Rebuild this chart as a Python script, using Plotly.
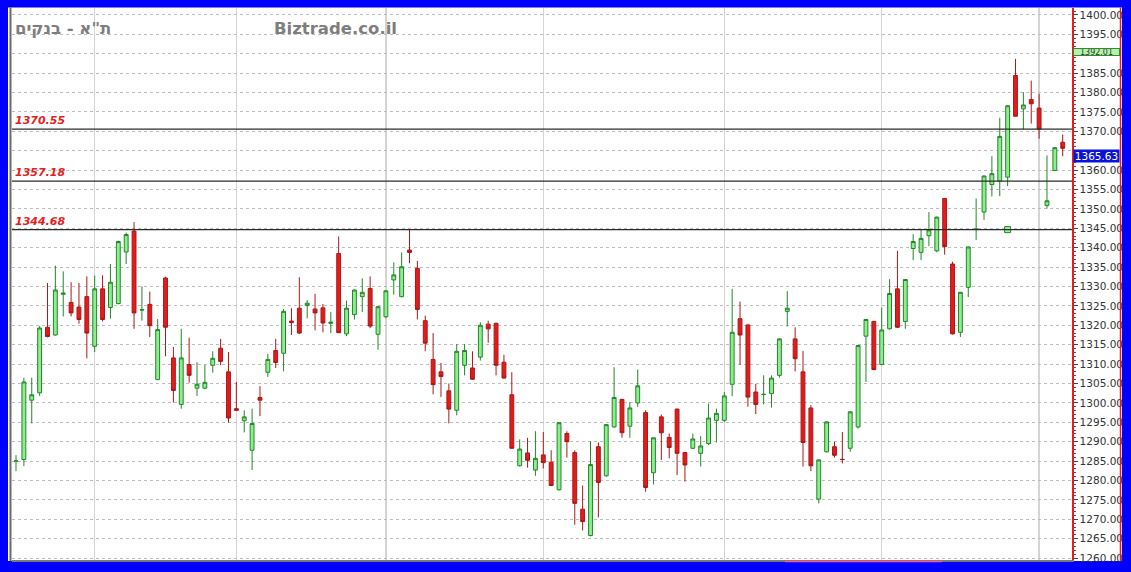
import plotly.graph_objects as go

# ---- data ----
open_ = [1285.0, 1285.4, 1300.7, 1302.6, 1319.5, 1317.5, 1328.0, 1325.9, 1324.7, 1327.4,
         1314.6, 1329.4, 1324.6, 1325.6, 1338.9, 1344.3, 1323.95, 1325.4, 1306.0, 1332.2,
         1311.6, 1299.6, 1309.9, 1303.8, 1303.8, 1309.7, 1314.1, 1308.0, 1298.5, 1295.4,
         1287.8, 1301.4, 1307.9, 1313.5, 1312.8, 1321.1, 1324.4, 1325.1, 1324.2, 1324.5,
         1320.5, 1338.5, 1317.8, 1322.8, 1327.4, 1329.5, 1317.7, 1322.2, 1331.7, 1327.4,
         1339.4, 1334.7, 1321.2, 1311.2, 1308.0, 1303.1, 1298.1, 1309.7, 1309.0, 1311.8,
         1320.3, 1320.5, 1310.5, 1302.1, 1283.8, 1287.1, 1282.7, 1286.6, 1284.7, 1277.6,
         1292.1, 1287.2, 1272.6, 1265.8, 1288.7, 1281.2, 1293.8, 1300.9, 1294.0, 1300.0,
         1297.5, 1282.0, 1296.4, 1291.1, 1298.4, 1287.2, 1288.3, 1287.0, 1289.5, 1295.5,
         1295.5, 1304.8, 1321.7, 1320.1, 1302.8, 1302.15, 1302.4, 1307.1, 1323.6, 1316.5,
         1308.0, 1298.7, 1275.2, 1287.4, 1288.7, 1285.45, 1288.3, 1293.8, 1317.2, 1321.0,
         1309.9, 1319.1, 1329.4, 1321.0, 1339.8, 1338.8, 1343.1, 1339.2, 1352.7, 1335.8,
         1318.2, 1329.8, 1344.75, 1349.2, 1356.3, 1357.2, 1358.2, 1384.4, 1375.8, 1378.2,
         1376.0, 1350.9, 1359.9, 1367.2]
high = [1286.5, 1306.5, 1306.5, 1319.8, 1330.9, 1335.4, 1333.9, 1331.1, 1330.9, 1332.6,
        1332.8, 1332.9, 1335.8, 1341.8, 1343.9, 1346.6, 1330.0, 1328.7, 1321.6, 1332.5,
        1314.4, 1319.1, 1316.8, 1310.5, 1309.8, 1313.3, 1316.5, 1313.1, 1305.4, 1298.1,
        1298.5, 1304.3, 1312.7, 1316.5, 1324.2, 1324.4, 1332.4, 1326.5, 1328.1, 1325.5,
        1323.4, 1342.9, 1326.4, 1329.2, 1332.1, 1332.6, 1324.9, 1329.0, 1336.2, 1338.8,
        1344.8, 1336.6, 1322.5, 1318.0, 1310.3, 1305.0, 1315.2, 1315.2, 1313.3, 1320.8,
        1321.2, 1320.7, 1312.4, 1307.9, 1290.6, 1291.0, 1292.7, 1292.5, 1287.8, 1295.0,
        1292.7, 1287.8, 1278.7, 1290.1, 1289.8, 1294.5, 1309.2, 1301.0, 1300.2, 1308.6,
        1298.1, 1291.1, 1297.0, 1292.1, 1298.5, 1287.3, 1292.1, 1291.4, 1299.8, 1298.5,
        1302.8, 1329.4, 1326.1, 1320.2, 1304.9, 1307.1, 1307.1, 1316.6, 1328.8, 1319.5,
        1313.4, 1299.4, 1285.4, 1295.2, 1290.0, 1292.5, 1297.8, 1314.9, 1321.6, 1321.1,
        1324.6, 1331.9, 1339.2, 1331.9, 1343.5, 1344.6, 1349.2, 1348.0, 1352.8, 1336.4,
        1328.6, 1340.3, 1352.7, 1358.6, 1363.6, 1373.5, 1376.7, 1388.7, 1380.1, 1383.1,
        1379.7, 1363.8, 1365.9, 1369.2]
low = [1282.4, 1283.7, 1294.7, 1301.8, 1316.9, 1317.3, 1322.3, 1322.3, 1320.4, 1311.5,
       1313.1, 1321.0, 1321.7, 1325.4, 1335.8, 1319.1, 1321.2, 1317.0, 1306.0, 1312.0,
       1300.1, 1298.5, 1305.2, 1301.8, 1303.5, 1307.8, 1309.7, 1294.9, 1298.0, 1292.4,
       1282.7, 1296.6, 1306.7, 1309.0, 1308.1, 1317.5, 1317.8, 1321.8, 1318.7, 1318.2,
       1318.0, 1318.0, 1317.2, 1321.5, 1323.4, 1319.3, 1313.7, 1321.9, 1327.9, 1327.2,
       1336.0, 1321.5, 1313.3, 1302.2, 1301.5, 1294.7, 1296.8, 1307.1, 1306.0, 1310.9,
       1315.5, 1307.1, 1306.3, 1288.2, 1283.6, 1283.3, 1281.2, 1283.1, 1278.6, 1277.4,
       1285.9, 1268.6, 1267.1, 1265.6, 1270.5, 1281.0, 1293.6, 1291.0, 1291.0, 1299.0,
       1277.1, 1279.0, 1285.3, 1285.7, 1281.4, 1279.7, 1288.1, 1283.6, 1289.1, 1289.8,
       1295.1, 1301.7, 1309.8, 1299.0, 1297.1, 1299.6, 1298.8, 1306.5, 1319.7, 1308.1,
       1283.6, 1282.4, 1274.1, 1287.2, 1285.9, 1284.4, 1287.4, 1293.4, 1305.4, 1308.4,
       1309.7, 1318.9, 1319.3, 1319.1, 1336.8, 1336.8, 1340.4, 1338.8, 1338.2, 1317.6,
       1317.0, 1327.3, 1342.0, 1347.2, 1353.2, 1353.3, 1355.9, 1373.8, 1370.5, 1372.0,
       1368.1, 1350.1, 1359.8, 1363.6]
close = [1285.05, 1305.4, 1302.1, 1319.3, 1317.1, 1329.1, 1328.3, 1323.2, 1321.5, 1318.0,
         1329.4, 1321.5, 1331.1, 1341.6, 1343.4, 1323.2, 1324.0, 1319.9, 1318.9, 1319.5,
         1303.2, 1311.6, 1307.1, 1304.8, 1305.3, 1311.5, 1310.7, 1296.1, 1298.1, 1296.4,
         1294.7, 1300.7, 1311.2, 1310.4, 1323.6, 1320.7, 1318.0, 1325.7, 1323.2, 1320.6,
         1320.8, 1318.1, 1324.4, 1329.1, 1328.5, 1319.8, 1324.8, 1328.9, 1333.0, 1335.1,
         1338.8, 1324.1, 1315.4, 1304.7, 1306.8, 1298.4, 1313.3, 1313.5, 1306.1, 1320.0,
         1319.1, 1309.7, 1306.4, 1288.3, 1288.1, 1285.2, 1285.7, 1284.6, 1278.7, 1294.9,
         1290.0, 1274.1, 1269.4, 1284.1, 1279.5, 1294.4, 1301.4, 1292.3, 1298.7, 1304.4,
         1278.2, 1291.0, 1292.3, 1288.5, 1287.0, 1284.0, 1290.7, 1288.9, 1296.1, 1297.3,
         1301.8, 1318.2, 1317.5, 1301.5, 1299.6, 1302.2, 1306.4, 1316.5, 1324.4, 1311.4,
         1289.8, 1283.8, 1285.3, 1295.1, 1286.5, 1285.4, 1297.7, 1314.8, 1321.5, 1308.6,
         1318.8, 1328.2, 1319.5, 1331.8, 1341.6, 1342.4, 1344.6, 1347.9, 1340.3, 1317.8,
         1328.5, 1340.2, 1344.8, 1358.5, 1359.1, 1368.7, 1376.6, 1373.9, 1376.8, 1377.1,
         1370.6, 1352.1, 1365.8, 1365.63]
bar_index = list(range(len(close)))

month_breaks = [10, 28, 47, 67, 90, 110, 130]          # vertical grid lines (bar index)
y_tick_values = list(range(1260, 1401, 5))
hidden_tick_values = [1365, 1390]                        # covered by the price boxes
y_tick_labels = ["" if v in hidden_tick_values else f"{v:.2f}" for v in y_tick_values]
levels = [1370.55, 1357.18, 1344.68]                     # horizontal support/resistance lines
level_labels = ["1370.55", "1357.18", "1344.68"]
last_price = 1365.63
last_label = "1365.63"
top_marker_value = 1390.5
top_marker_label = "1392.01"
square_x = [126]
square_y = [1344.68]
title_he = 'ת"א - בנקים'
watermark = "Biztrade.co.il"

# ---- geometry ----
W, H = 1131, 572
ML, MR, MT, MB = 12, 59, 8, 10
PW = W - ML - MR
PH = H - MT - MB

def px_x(px):
    return (px - ML) / PW

def px_y(py):
    return 1 - (py - MT) / PH

fig = go.Figure()

fig.add_trace(go.Candlestick(
    x=bar_index, open=open_, high=high, low=low, close=close,
    whiskerwidth=0,
    increasing=dict(fillcolor="#8EEE8E", line=dict(color="#22862A", width=1)),
    decreasing=dict(fillcolor="#E41B1B", line=dict(color="#A81818", width=1)),
    hoverinfo="skip", showlegend=False,
))

fig.add_trace(go.Scatter(
    x=square_x, y=square_y, mode="markers",
    marker=dict(symbol="square", size=6, color="#9CF09C",
                line=dict(color="#22862A", width=1)),
    hoverinfo="skip", showlegend=False,
))

shapes = []
shapes.append(dict(type="rect", xref="paper", yref="paper",
                   x0=px_x(8), x1=px_x(1122), y0=px_y(563), y1=px_y(7.5),
                   fillcolor="white", line=dict(width=0), layer="below"))
shapes.append(dict(type="line", xref="paper", yref="paper",
                   x0=px_x(10.5), x1=px_x(10.5), y0=px_y(563), y1=px_y(7.5),
                   line=dict(color="#6A6A6A", width=2), layer="above"))
shapes.append(dict(type="line", xref="paper", yref="paper",
                   x0=px_x(1120.5), x1=px_x(1120.5), y0=px_y(563), y1=px_y(7.5),
                   line=dict(color="#E02020", width=1.5), layer="above"))
shapes.append(dict(type="line", xref="paper", yref="paper",
                   x0=px_x(785), x1=px_x(942), y0=px_y(563.5), y1=px_y(563.5),
                   line=dict(color="#FF5A8A", width=1.5), layer="above"))
for lv in levels:
    shapes.append(dict(type="line", xref="paper", yref="y",
                       x0=0, x1=1, y0=lv, y1=lv,
                       line=dict(color="#2B2B2B", width=1.2), layer="above"))

annotations = []
for lv, lab in zip(levels, level_labels):
    annotations.append(dict(
        xref="paper", yref="y", x=px_x(13), y=lv, xanchor="left", yanchor="bottom",
        text=f"<b><i>{lab}</i></b>", showarrow=False, yshift=0,
        font=dict(family="DejaVu Sans", size=11, color="#E3201E"),
    ))
annotations.append(dict(
    xref="paper", yref="paper", x=px_x(13), y=px_y(29), xanchor="left", yanchor="middle",
    text=f"<b>{title_he}</b>", showarrow=False,
    font=dict(family="DejaVu Sans", size=16.5, color="#7E7E7E"),
))
annotations.append(dict(
    xref="paper", yref="paper", x=px_x(272), y=px_y(29), xanchor="left", yanchor="middle",
    text=f"<b>{watermark}</b>", showarrow=False,
    font=dict(family="DejaVu Sans", size=16.5, color="#7E7E7E"),
))
annotations.append(dict(
    xref="paper", yref="y", x=1, y=last_price, xanchor="left", yanchor="top",
    text=last_label, showarrow=False, xshift=1, yshift=-1,
    bgcolor="#0A12D8", borderpad=0, width=45,
    font=dict(family="DejaVu Sans", size=10.5, color="white"),
))
annotations.append(dict(
    xref="paper", yref="y", x=1, y=top_marker_value, xanchor="left", yanchor="middle",
    text=top_marker_label, showarrow=False, xshift=1,
    bgcolor="#B6F2AE", bordercolor="#2E8B2E", borderwidth=1, borderpad=0, width=45,
    height=6,
    font=dict(family="DejaVu Sans", size=8, color="#333333"),
))

fig.update_layout(
    width=W, height=H,
    margin=dict(l=ML, r=MR, t=MT, b=MB, pad=0),
    paper_bgcolor="#0000FF",
    plot_bgcolor="white",
    showlegend=False,
    hovermode=False,
    shapes=shapes,
    annotations=annotations,
    xaxis=dict(
        range=[-0.508, 134.18],
        rangeslider=dict(visible=False),
        tickmode="array", tickvals=month_breaks, showticklabels=False, ticks="",
        showgrid=True, gridcolor="#D4D4D4", gridwidth=1.5,
        zeroline=False,
        showline=True, linecolor="#7A7A7A", linewidth=1.5, mirror=False,
    ),
    yaxis=dict(
        side="right",
        range=[1259.5, 1401.8],
        tickmode="array", tickvals=y_tick_values, ticktext=y_tick_labels,
        ticks="outside", ticklen=4, tickcolor="#444444",
        tickfont=dict(family="DejaVu Sans", size=10.5, color="#333333"),
        showgrid=True, gridcolor="#BDBDBD", gridwidth=1, griddash="dot",
        zeroline=False,
        showline=True, linecolor="#E02020", linewidth=1.5,
        minor=dict(dtick=1, ticks="outside", ticklen=2, tickcolor="#E02020", showgrid=False),
    ),
)

fig.write_html(
    "out.html",
    config={"staticPlot": True},
    post_script="document.body.style.margin='0';document.body.style.padding='0';"
                "document.body.style.background='#0000FF';document.body.style.overflow='hidden';",
)
